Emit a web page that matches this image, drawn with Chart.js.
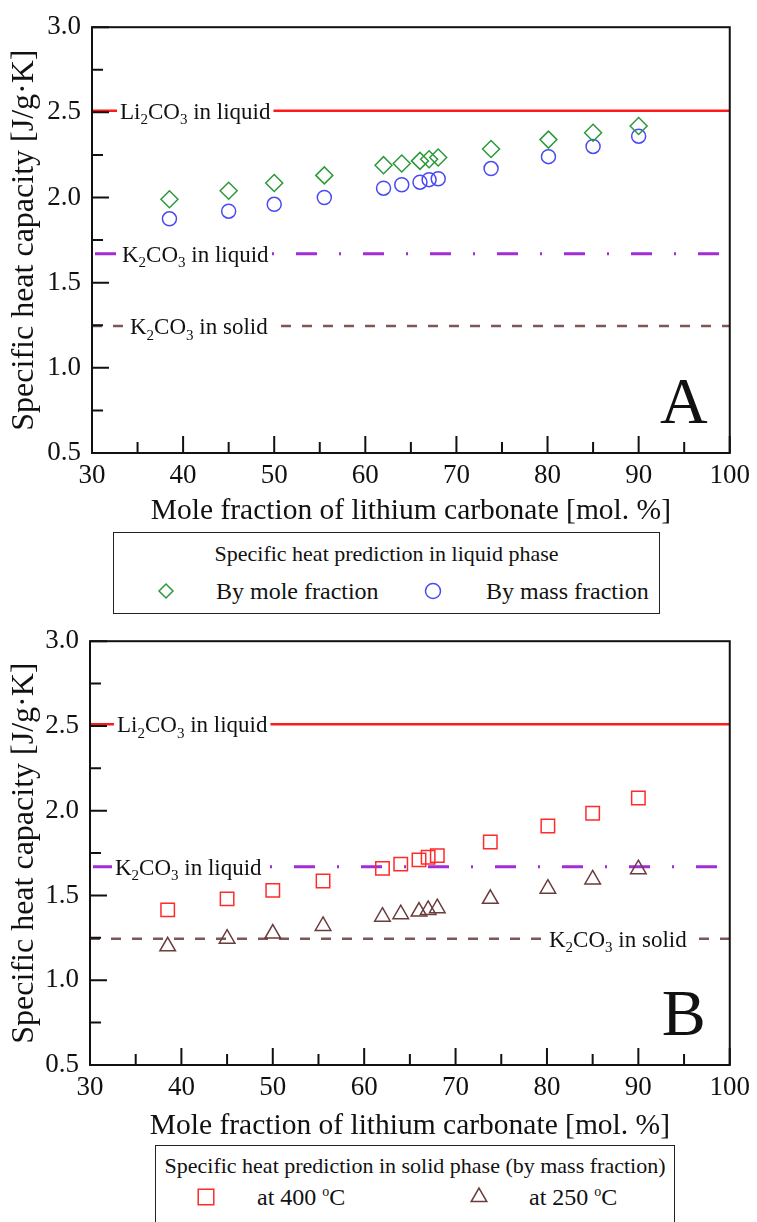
<!DOCTYPE html>
<html>
<head>
<meta charset="utf-8">
<script src="https://cdn.jsdelivr.net/npm/chart.js@4.4.1/dist/chart.umd.min.js"></script>
<style>
body { margin: 0; background: #fff; }
#page { position: relative; width: 757px; height: 1222px; overflow: hidden; font-family: "Liberation Serif", "Times New Roman", serif; color: #111; }
#page canvas.plot { position: absolute; left: 0; }
.legend { position: absolute; border: 1.5px solid #222; box-sizing: border-box; }
.legend .ltitle { position: absolute; left: 0; width: 100%; text-align: center; font-size: 22px; line-height: 26px; white-space: nowrap; }
.legend .ltext { position: absolute; font-size: 24px; line-height: 28px; white-space: nowrap; }
.legend canvas { position: absolute; }
sup { font-size: 14px; vertical-align: 9px; line-height: 0; }
</style>
</head>
<body>
<div id="page">
  <canvas class="plot" id="chartA" style="top:0px"></canvas>
  <canvas class="plot" id="chartB" style="top:614px"></canvas>

  <div class="legend" style="left:113px;top:532px;width:547px;height:82px">
    <div class="ltitle" style="top:8px">Specific heat prediction in liquid phase</div>
    <canvas id="symMole" width="30" height="30" style="left:37px;top:43px"></canvas>
    <span class="ltext" style="left:102px;top:44px">By mole fraction</span>
    <canvas id="symMass" width="30" height="30" style="left:304px;top:43px"></canvas>
    <span class="ltext" style="left:372px;top:44px">By mass fraction</span>
  </div>

  <div class="legend" style="left:155px;top:1145px;width:520px;height:120px">
    <div class="ltitle" style="top:7px">Specific heat prediction in solid phase (by mass fraction)</div>
    <canvas id="sym400" width="30" height="30" style="left:35px;top:36px"></canvas>
    <span class="ltext" style="left:101px;top:37px">at 400 <sup>o</sup>C</span>
    <canvas id="sym250" width="30" height="30" style="left:308px;top:36px"></canvas>
    <span class="ltext" style="left:373px;top:37px">at 250 <sup>o</sup>C</span>
  </div>
</div>
<script>
// values
var moleFraction = [38.5, 45, 50, 55.5, 62, 64, 66, 67, 68, 73.8, 80.1, 85, 90];
var liquidByMole = [1.99, 2.04, 2.085, 2.13, 2.19, 2.20, 2.215, 2.225, 2.235, 2.285, 2.34, 2.38, 2.42];
var liquidByMass = [1.875, 1.92, 1.96, 2.00, 2.055, 2.075, 2.09, 2.105, 2.11, 2.17, 2.24, 2.30, 2.36];
var solidAt400 = [1.415, 1.48, 1.53, 1.585, 1.66, 1.685, 1.71, 1.725, 1.735, 1.815, 1.91, 1.985, 2.075];
var solidAt250 = [1.20, 1.245, 1.275, 1.32, 1.375, 1.39, 1.405, 1.415, 1.425, 1.48, 1.54, 1.595, 1.655];

var li2co3Liquid = 2.51;
var k2co3Liquid = 1.67;
var k2co3Solid = 1.245;

var xRange = [30, 100];
var yRange = [0.5, 3.0];
var xTicks = [30, 40, 50, 60, 70, 80, 90, 100];
var xMinorTicks = [35, 45, 55, 65, 75, 85, 95];
var yTicks = [0.5, 1.0, 1.5, 2.0, 2.5, 3.0];
var yMinorTicks = [0.75, 1.25, 1.75, 2.25, 2.75];

var serif = '"Liberation Serif", "Times New Roman", serif';
Chart.defaults.font.family = serif;
Chart.defaults.color = '#111';

var styles = {
    mole: { pointStyle: 'rectRot', radius: 8.5, color: '#2a9a3a' },
    mass: { pointStyle: 'circle', radius: 7, color: '#4a4af5' },
    at400: { pointStyle: 'rect', radius: 9.5, color: '#ff2a2a' },
    at250: { pointStyle: 'triangle', radius: 9, color: '#6a3c3c' }
};

function toPoints(xs, ys){
    return xs.map(function(x, i){ return { x: x, y: ys[i] }; });
}

function scatterSet(label, xs, ys, st){
    return {
        type: 'scatter',
        label: label,
        data: toPoints(xs, ys),
        pointStyle: st.pointStyle,
        pointRadius: st.radius,
        pointHoverRadius: st.radius,
        pointBorderWidth: 1.5,
        borderColor: st.color,
        backgroundColor: 'rgba(0,0,0,0)',
        order: 1
    };
}

function refLine(value, color, width, dash, dashOffset){
    return {
        type: 'line',
        data: [{ x: xRange[0], y: value }, { x: xRange[1], y: value }],
        borderColor: color,
        borderWidth: width,
        borderDash: dash,
        borderDashOffset: dashOffset || 0,
        pointRadius: 0,
        fill: false,
        order: 2
    };
}

function richWidth(ctx, parts, size){
    var w = 0;
    parts.forEach(function(p){
        ctx.font = (p[1] ? Math.round(size * 0.65) : size) + 'px ' + serif;
        w += ctx.measureText(p[0]).width;
    });
    return w;
}

function drawRich(ctx, parts, x, y, size){
    parts.forEach(function(p){
        ctx.font = (p[1] ? Math.round(size * 0.65) : size) + 'px ' + serif;
        ctx.fillText(p[0], x, p[1] ? y + size * 0.24 : y);
        x += ctx.measureText(p[0]).width;
    });
}

// frame, inward ticks, labels on the reference lines, panel letter
var framePlugin = {
    id: 'frame',
    afterDatasetsDraw: function(chart, args, opts){
        var ctx = chart.ctx, a = chart.chartArea;
        var xs = chart.scales.x, ys = chart.scales.y;
        ctx.save();
        ctx.textBaseline = 'alphabetic';
        (opts.labels || []).forEach(function(l){
            var y = ys.getPixelForValue(l.value);
            var w = richWidth(ctx, l.parts, 23);
            ctx.fillStyle = '#fff';
            ctx.fillRect(l.x - 3, y - 13, w + 6, 26);
            ctx.fillStyle = '#111';
            drawRich(ctx, l.parts, l.x, y + 8, 23);
        });
        ctx.strokeStyle = '#111';
        ctx.lineWidth = 2;
        ctx.beginPath();
        xTicks.concat(xMinorTicks).forEach(function(v){
            var len = xMinorTicks.indexOf(v) >= 0 ? 11 : 17;
            var px = xs.getPixelForValue(v);
            ctx.moveTo(px, a.bottom);
            ctx.lineTo(px, a.bottom - len);
        });
        yTicks.concat(yMinorTicks).forEach(function(v){
            var len = yMinorTicks.indexOf(v) >= 0 ? 11 : 17;
            var py = ys.getPixelForValue(v);
            ctx.moveTo(a.left, py);
            ctx.lineTo(a.left + len, py);
        });
        ctx.stroke();
        ctx.strokeRect(a.left, a.top, a.right - a.left, a.bottom - a.top);
        ctx.fillStyle = '#111';
        ctx.font = '66px ' + serif;
        ctx.textAlign = 'center';
        ctx.fillText(opts.panel, a.right - 46, a.bottom - 30);
        ctx.restore();
    }
};

function makeChart(id, height, geom, datasets, labels, panel){
    var canvas = document.getElementById(id);
    canvas.width = 757;
    canvas.height = height;
    canvas.style.width = '757px';
    canvas.style.height = height + 'px';
    return new Chart(canvas, {
        data: { datasets: datasets },
        options: {
            responsive: false,
            animation: false,
            events: [],
            layout: { padding: { left: 0, top: geom.top, right: geom.right, bottom: 0 } },
            plugins: {
                legend: { display: false },
                tooltip: { enabled: false },
                frame: { labels: labels, panel: panel }
            },
            scales: {
                x: {
                    type: 'linear',
                    min: xRange[0],
                    max: xRange[1],
                    afterBuildTicks: function(s){ s.ticks = xTicks.map(function(v){ return { value: v }; }); },
                    afterFit: function(s){ s.height = geom.xHeight; },
                    grid: { display: false, drawTicks: false },
                    border: { display: false },
                    ticks: { font: { size: 27 }, color: '#111', padding: 7, maxRotation: 0 },
                    title: {
                        display: true,
                        text: 'Mole fraction of lithium carbonate [mol. %]',
                        font: { size: 29.5 },
                        color: '#111',
                        padding: { top: 0, bottom: geom.titlePad }
                    }
                },
                y: {
                    type: 'linear',
                    min: yRange[0],
                    max: yRange[1],
                    afterBuildTicks: function(s){ s.ticks = yTicks.map(function(v){ return { value: v }; }); },
                    afterFit: function(s){ s.width = geom.yWidth; },
                    grid: { display: false, drawTicks: false },
                    border: { display: false },
                    ticks: {
                        font: { size: 27 },
                        color: '#111',
                        padding: 11,
                        callback: function(v){ return Number(v).toFixed(1); }
                    },
                    title: {
                        display: true,
                        text: 'Specific heat capacity [J/g\u00b7K]',
                        font: { size: 32 },
                        color: '#111',
                        padding: { top: 5, bottom: 0 }
                    }
                }
            }
        },
        plugins: [framePlugin]
    });
}

var liParts = [['Li', 0], ['2', 1], ['CO', 0], ['3', 1], [' in liquid', 0]];
var kLiqParts = [['K', 0], ['2', 1], ['CO', 0], ['3', 1], [' in liquid', 0]];
var kSolParts = [['K', 0], ['2', 1], ['CO', 0], ['3', 1], [' in solid', 0]];

function referenceSets(){
    return [
        refLine(li2co3Liquid, '#ff1a1a', 2.5, []),
        refLine(k2co3Liquid, '#a22cd6', 3, [21, 22, 2, 22], 64),
        refLine(k2co3Solid, '#7d5656', 2.5, [10, 11])
    ];
}

makeChart('chartA', 530, { top: 24, right: 21, yWidth: 92, xHeight: 77, titlePad: 1 },
    [
        scatterSet('By mole fraction', moleFraction, liquidByMole, styles.mole),
        scatterSet('By mass fraction', moleFraction, liquidByMass, styles.mass)
    ].concat(referenceSets()),
    [
        { parts: liParts, value: li2co3Liquid, x: 120 },
        { parts: kLiqParts, value: k2co3Liquid, x: 122 },
        { parts: kSolParts, value: k2co3Solid, x: 130 }
    ], 'A');

makeChart('chartB', 530, { top: 24, right: 24, yWidth: 90, xHeight: 79, titlePad: 0 },
    [
        scatterSet('at 400 oC', moleFraction, solidAt400, styles.at400),
        scatterSet('at 250 oC', moleFraction, solidAt250, styles.at250)
    ].concat(referenceSets()),
    [
        { parts: liParts, value: li2co3Liquid, x: 117 },
        { parts: kLiqParts, value: k2co3Liquid, x: 115 },
        { parts: kSolParts, value: k2co3Solid, x: 549 }
    ], 'B');

// legend symbols, same marker styles as the plots
function drawSymbol(id, st, radius){
    var c = document.getElementById(id);
    var ctx = c.getContext('2d');
    ctx.strokeStyle = st.color;
    ctx.fillStyle = 'rgba(0,0,0,0)';
    ctx.lineWidth = 1.5;
    Chart.helpers.drawPoint(ctx, { pointStyle: st.pointStyle, radius: radius, rotation: 0, borderWidth: 1.5 }, 15, 15);
}
drawSymbol('symMole', styles.mole, 7);
drawSymbol('symMass', styles.mass, 7.5);
drawSymbol('sym400', styles.at400, 11);
drawSymbol('sym250', styles.at250, 9);
</script>
</body>
</html>
